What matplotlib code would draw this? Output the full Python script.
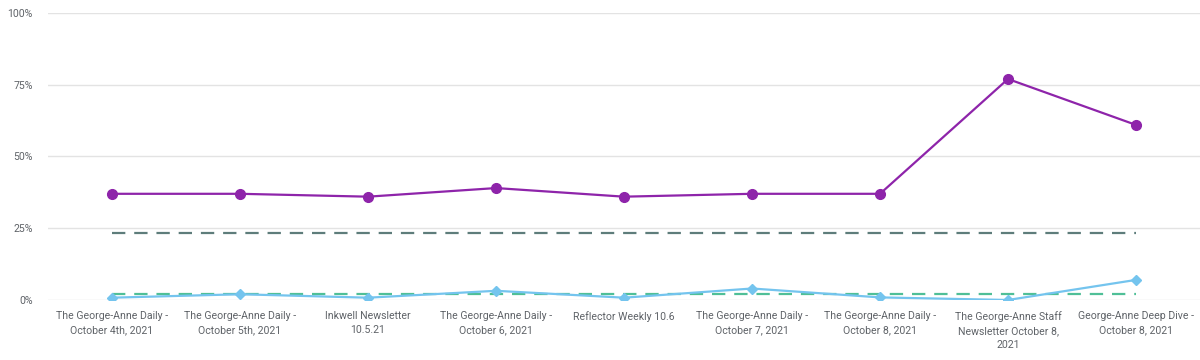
import matplotlib
matplotlib.use('Agg')
import matplotlib.pyplot as plt
from matplotlib.ticker import FuncFormatter

labels = ['The George-Anne Daily -\nOctober 4th, 2021',
          'The George-Anne Daily -\nOctober 5th, 2021',
          'Inkwell Newsletter\n10.5.21',
          'The George-Anne Daily -\nOctober 6, 2021',
          'Reflector Weekly 10.6',
          'The George-Anne Daily -\nOctober 7, 2021',
          'The George-Anne Daily -\nOctober 8, 2021',
          'The George-Anne Staff\nNewsletter October 8,\n2021',
          'George-Anne Deep Dive -\nOctober 8, 2021']
open_rate = [37, 37, 36, 39, 36, 37, 37, 77, 61]
click_rate = [0.8, 2, 0.8, 3.2, 0.8, 4, 0.9, 0, 7]
avg_open = 23.3
avg_click = 2.1

colors = {'open': '#8e24aa', 'click': '#74c4ee',
          'avg_open': '#5e7d7b', 'avg_click': '#4fbf97',
          'grid': '#e3e3e3', 'text': '#5f6368'}

plt.rcParams['font.family'] = ['Roboto', 'DejaVu Sans']

fig = plt.figure(figsize=(12, 3.6), dpi=100)
ax = fig.add_axes([0.04, 0.1667, 0.96, 0.7972])

x = list(range(len(labels)))
ax.plot([x[0], x[-1]], [avg_open, avg_open], color=colors['avg_open'],
        lw=1.6, dashes=(6, 4), zorder=2)
ax.plot([x[0], x[-1]], [avg_click, avg_click], color=colors['avg_click'],
        lw=1.6, dashes=(6, 4), zorder=2)
ax.plot(x, click_rate, color=colors['click'], lw=1.6, marker='D',
        markersize=5, zorder=3)
ax.plot(x, open_rate, color=colors['open'], lw=1.6, marker='o',
        markersize=7, zorder=4)

ax.set_xlim(-0.5, len(labels) - 0.5)
ax.set_ylim(0, 100)
ax.set_yticks([0, 25, 50, 75, 100])
ax.yaxis.set_major_formatter(FuncFormatter(lambda v, p: '%d%%' % v))
ax.set_xticks(x)
ax.set_xticklabels(labels, fontsize=7.6, color=colors['text'],
                   linespacing=1.5)

for key in ax.spines.keys():
    ax.spines[key].set_color('none')
ax.grid(axis='y', color=colors['grid'], lw=1)
ax.set_axisbelow(True)
ax.tick_params(axis='both', length=0, colors=colors['text'])
ax.tick_params(axis='y', labelsize=7.6, pad=11)
ax.tick_params(axis='x', pad=8)

fig.savefig('out.png', dpi=100)
